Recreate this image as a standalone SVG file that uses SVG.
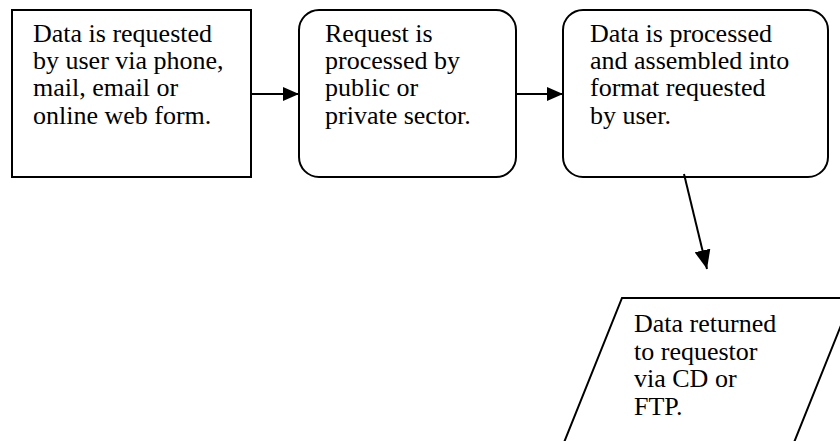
<svg xmlns="http://www.w3.org/2000/svg" width="840" height="441" viewBox="0 0 840 441">
<defs>
<style>
.box{fill:#fff;stroke:#000;stroke-width:2}
.lbl{font-family:"Liberation Serif","Times New Roman",serif;font-size:26px;fill:#000}
.con{stroke:#000;stroke-width:2;fill:none}
</style>
<marker id="ah" markerUnits="userSpaceOnUse" markerWidth="16" markerHeight="14" viewBox="0 0 16 14" refX="16" refY="7" orient="auto">
<path d="M0,0 L16,7 L0,14 Z" fill="#000"/>
</marker>
<marker id="ah2" markerUnits="userSpaceOnUse" markerWidth="19" markerHeight="16" viewBox="0 0 19 16" refX="19" refY="8" orient="auto">
<path d="M0,0 L19,8 L0,16 Z" fill="#000"/>
</marker>
</defs>
<rect width="840" height="441" fill="#fff"/>
<g id="n1">
<rect class="box" x="12" y="10" width="239" height="167"/>
<text class="lbl"><tspan x="33" y="42">Data is requested</tspan><tspan x="33" dy="27.2">by user via phone,</tspan><tspan x="33" dy="27.2">mail, email or</tspan><tspan x="33" dy="27.2">online web form.</tspan></text>
</g>
<g id="n2">
<rect class="box" x="299" y="10" width="217" height="167" rx="20" ry="20"/>
<text class="lbl"><tspan x="325" y="42">Request is</tspan><tspan x="325" dy="27.2">processed by</tspan><tspan x="325" dy="27.2">public or</tspan><tspan x="325" dy="27.2">private sector.</tspan></text>
</g>
<g id="n3">
<rect class="box" x="563" y="10" width="265" height="167" rx="20" ry="20"/>
<text class="lbl"><tspan x="590" y="42">Data is processed</tspan><tspan x="590" dy="27.2">and assembled into</tspan><tspan x="590" dy="27.2">format requested</tspan><tspan x="590" dy="27.2">by user.</tspan></text>
</g>
<g id="n4">
<polygon class="box" points="622,298 852,298 793,445 563,445"/>
<text class="lbl"><tspan x="634" y="332">Data returned</tspan><tspan x="634" dy="27.7">to requestor</tspan><tspan x="634" dy="27.7">via CD or</tspan><tspan x="634" dy="27.7">FTP.</tspan></text>
</g>
<g id="connectors">
<line class="con" x1="251" y1="94" x2="299" y2="94" marker-end="url(#ah)"/>
<line class="con" x1="516" y1="94" x2="563" y2="94" marker-end="url(#ah)"/>
<line class="con" x1="684" y1="174" x2="707" y2="269" marker-end="url(#ah2)"/>
</g>
</svg>
